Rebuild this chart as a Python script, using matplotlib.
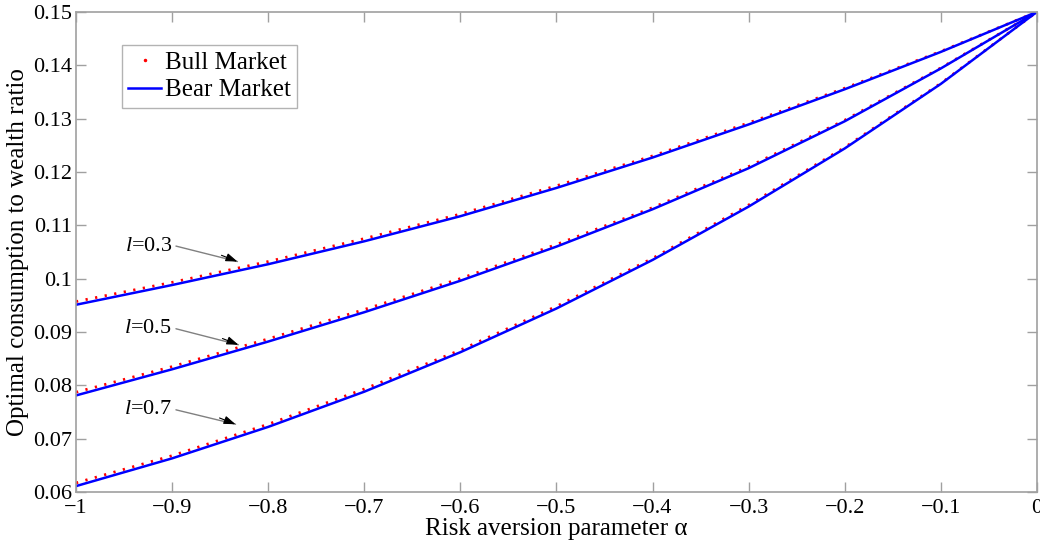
"""Optimal consumption-to-wealth ratio against risk aversion, bull vs bear market."""

import matplotlib.pyplot as plt
from matplotlib.lines import Line2D
from matplotlib.ticker import FuncFormatter

plt.rcParams['font.family'] = ['Liberation Serif', 'DejaVu Serif']
plt.rcParams['mathtext.fontset'] = 'custom'
plt.rcParams['mathtext.rm'] = 'Liberation Serif'
plt.rcParams['mathtext.it'] = 'Liberation Serif:italic'

alpha = [-1.0, -0.9, -0.8, -0.7, -0.6, -0.5, -0.4, -0.3, -0.2, -0.1, 0.0]

# bear market (solid blue)
bear_l03 = [0.0951, 0.0988, 0.1027, 0.1070, 0.1117, 0.1170, 0.1227, 0.1289, 0.1355, 0.1425, 0.1500]
bear_l05 = [0.0781, 0.0830, 0.0882, 0.0937, 0.0996, 0.1060, 0.1130, 0.1207, 0.1295, 0.1394, 0.1500]
bear_l07 = [0.0611, 0.0663, 0.0722, 0.0788, 0.0862, 0.0944, 0.1035, 0.1135, 0.1244, 0.1365, 0.1500]

# bull market (red dots)
bull_l03 = [0.0957, 0.0993, 0.1032, 0.1075, 0.1121, 0.1174, 0.1230, 0.1292, 0.1357, 0.1426, 0.1500]
bull_l05 = [0.0787, 0.0835, 0.0887, 0.0942, 0.1000, 0.1064, 0.1133, 0.1210, 0.1297, 0.1395, 0.1500]
bull_l07 = [0.0617, 0.0668, 0.0727, 0.0793, 0.0866, 0.0948, 0.1038, 0.1138, 0.1246, 0.1366, 0.1500]

curve_labels = ['0.3', '0.5', '0.7']
# label anchor (right end of text) and arrow tip, data coords
label_text_xy = [(-0.900, 0.1061), (-0.900, 0.0906), (-0.900, 0.0754)]
label_tip_xy = [(-0.832, 0.1032), (-0.831, 0.0876), (-0.834, 0.0727)]

fig = plt.figure(figsize=(10.4, 5.42), dpi=100)
ax = fig.add_axes([0.0731, 0.0923, 0.9239, 0.8857])

for bull in (bull_l03, bull_l05, bull_l07):
    ax.plot(alpha, bull, color='red', lw=2.0, linestyle=(0, (0.8, 2.7)),
            dash_capstyle='butt')
for bear in (bear_l03, bear_l05, bear_l07):
    ax.plot(alpha, bear, color='#0000ff', lw=1.8)

for lab, txy, tip in zip(curve_labels, label_text_xy, label_tip_xy):
    ax.text(txy[0], txy[1], r'$\mathit{l}$=' + lab, fontsize=16,
            ha='right', va='center')
    # gray leader line with a black head
    ax.annotate('', xy=tip, xytext=(txy[0] + 0.004, txy[1]),
                arrowprops=dict(arrowstyle='-', color='gray', lw=1.0,
                                shrinkA=0, shrinkB=0))
    ax.annotate('', xy=tip, xytext=(-11.5, 4.5), textcoords='offset points',
                arrowprops=dict(arrowstyle='-|>,head_length=0.7,head_width=0.25',
                                color='black', lw=0.8, shrinkA=0, shrinkB=0))

ax.set_xlim(-1, 0)
ax.set_ylim(0.06, 0.15)
ax.set_xticks([-1, -0.9, -0.8, -0.7, -0.6, -0.5, -0.4, -0.3, -0.2, -0.1, 0])
ax.set_yticks([0.06, 0.07, 0.08, 0.09, 0.1, 0.11, 0.12, 0.13, 0.14, 0.15])
fmt = FuncFormatter(lambda v, pos: ('%g' % round(v, 4)).replace('-', '\u2212'))
ax.xaxis.set_major_formatter(fmt)
ax.yaxis.set_major_formatter(fmt)

ax.tick_params(direction='in', length=7, width=1, color='#a0a0a0',
               labelsize=16, top=True, right=True, pad=3)
ax.tick_params(axis='x', pad=5)
for sp in ax.spines.values():
    sp.set_color('#a0a0a0')
    sp.set_linewidth(1.2)

ax.set_xlabel('Risk aversion parameter \u03b1', fontsize=18, labelpad=0)
ax.set_ylabel('Optimal consumption to wealth ratio', fontsize=18, labelpad=3)

handles = [
    Line2D([], [], color='red', marker='.', markersize=3, linestyle='none'),
    Line2D([], [], color='#0000ff', lw=1.8),
]
leg = ax.legend(handles, ['Bull Market', 'Bear Market'], loc='upper left',
                bbox_to_anchor=(0.048, 0.931), fontsize=18, frameon=True,
                fancybox=False, edgecolor='#a0a0a0', handlelength=1.3,
                handletextpad=0.15, borderpad=0.25, labelspacing=0.2,
                borderaxespad=0)
leg.get_frame().set_linewidth(1.0)

fig.savefig('out.png', dpi=100)
